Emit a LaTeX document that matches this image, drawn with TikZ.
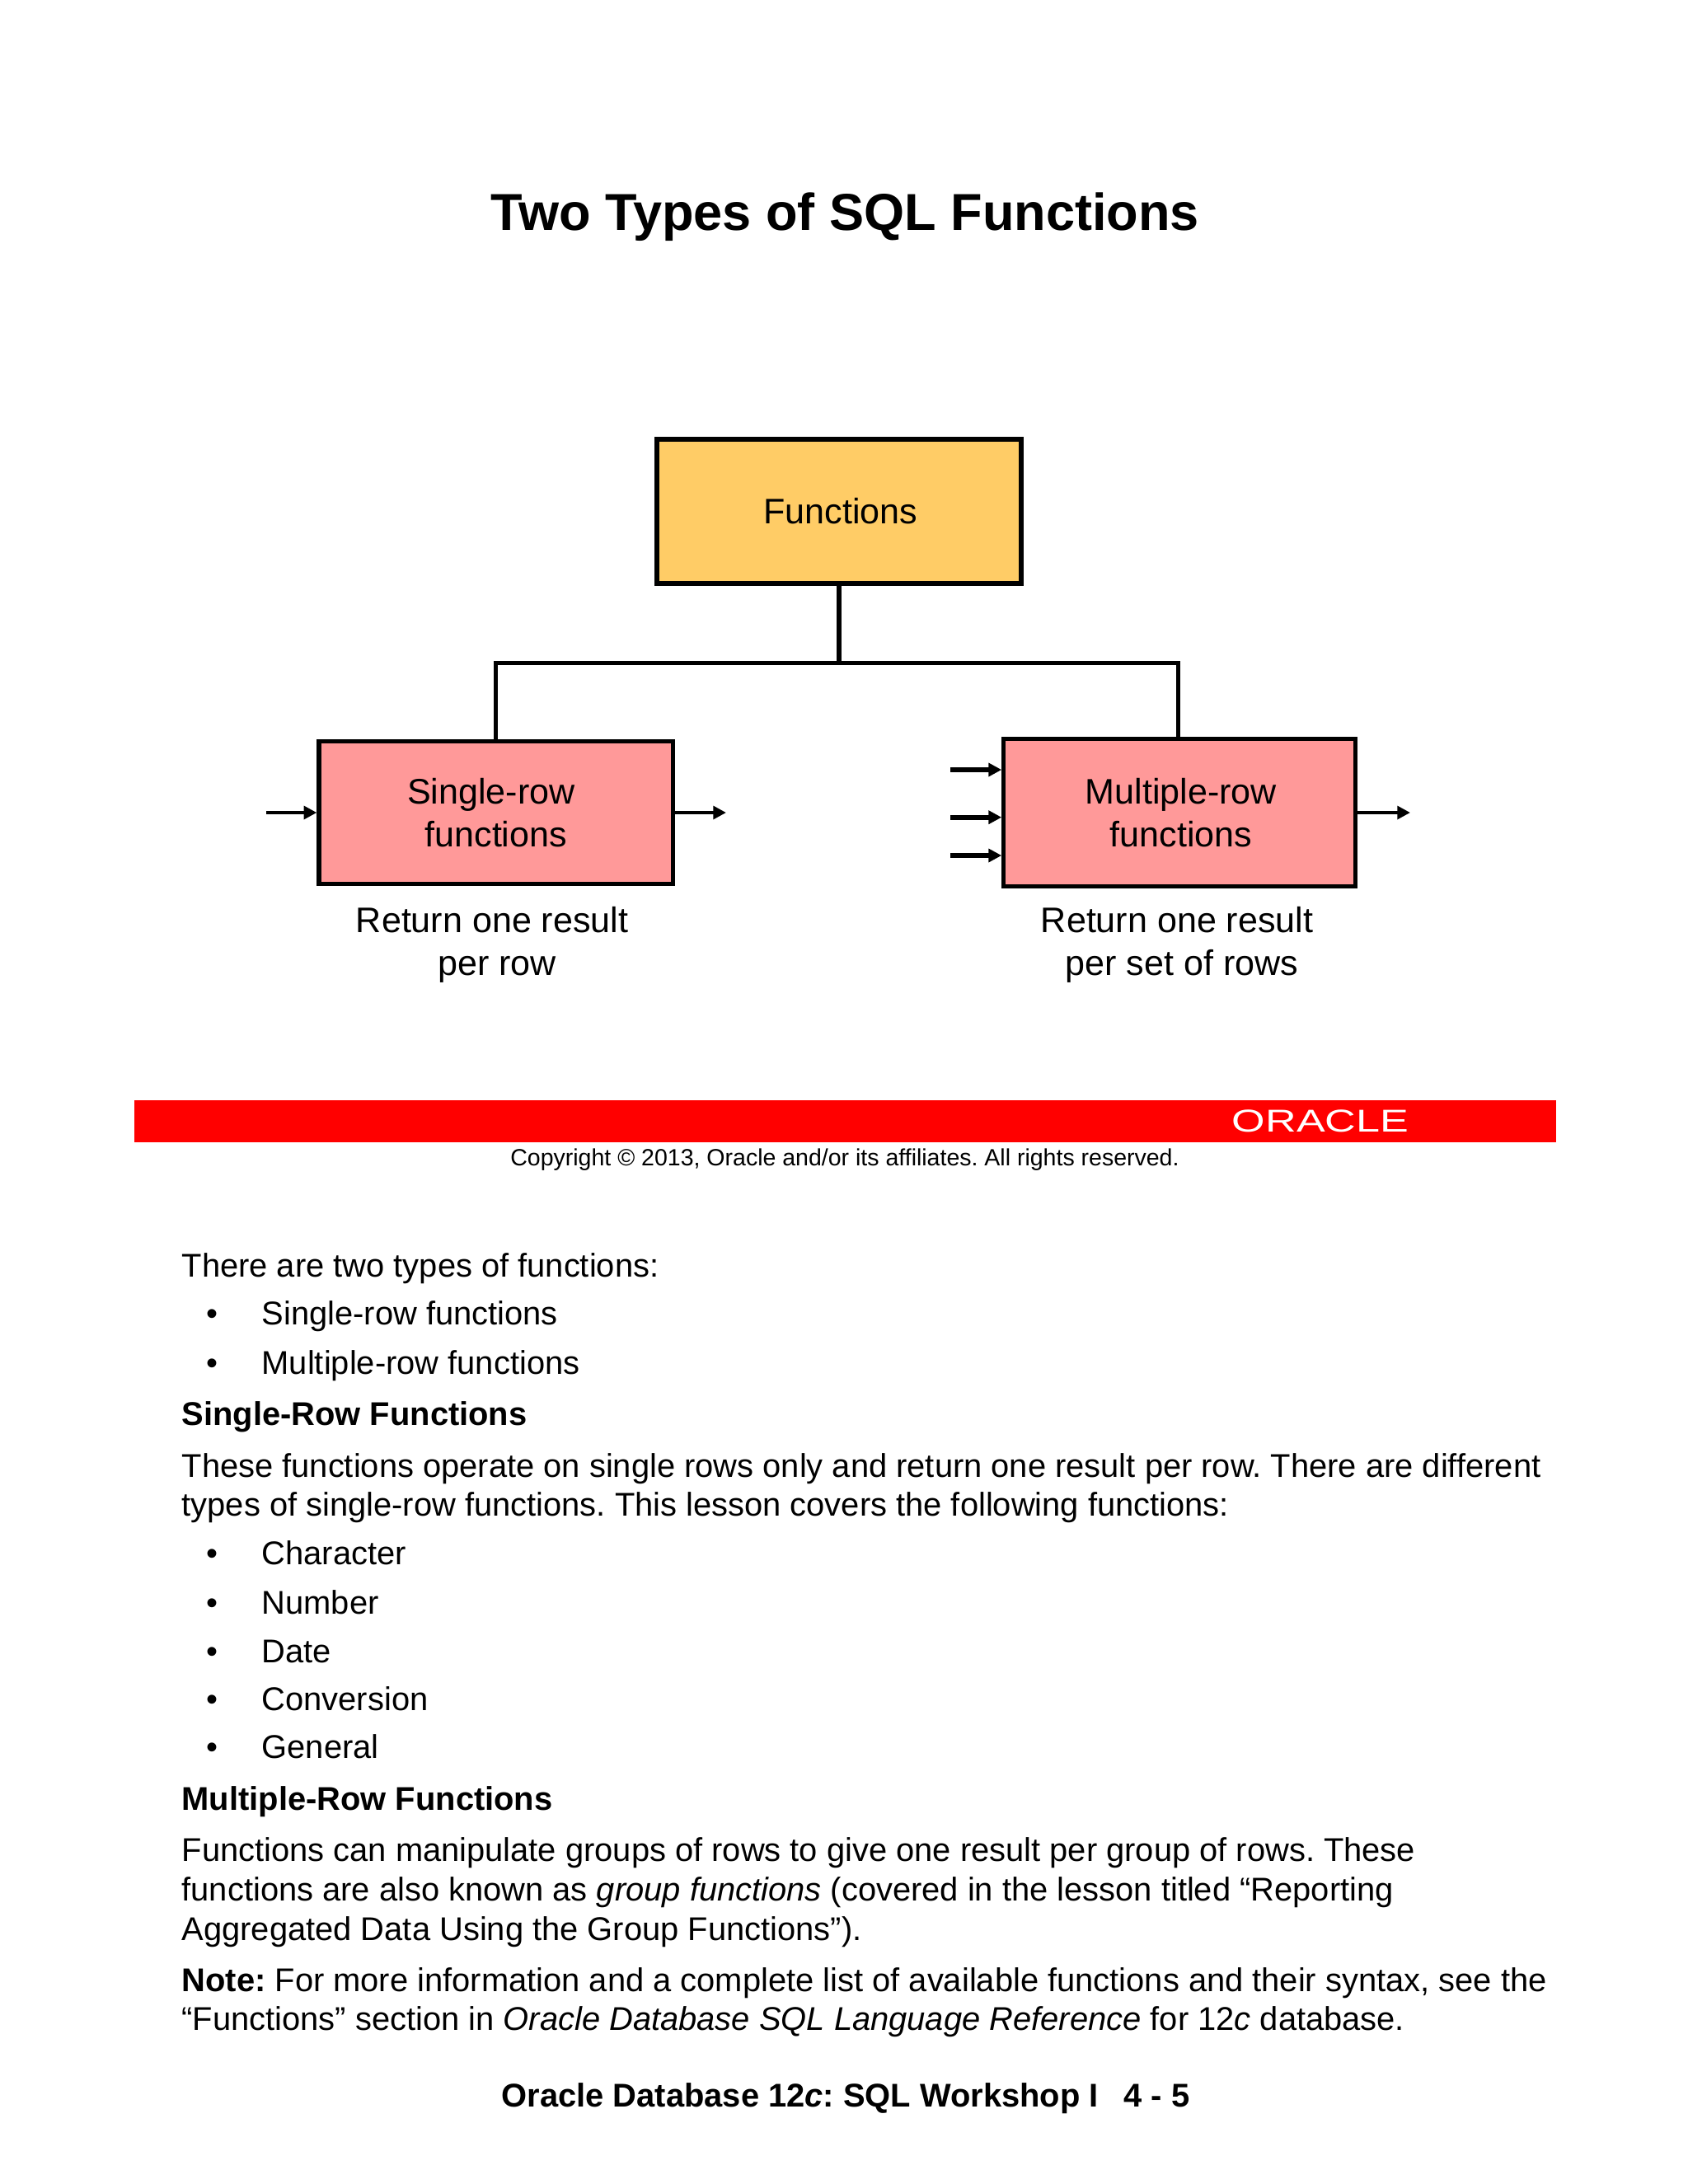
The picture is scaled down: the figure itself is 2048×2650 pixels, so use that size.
\documentclass[tikz,border=0pt]{standalone}
\usepackage{fontspec}
\setmainfont{Liberation Sans}
\usepackage{tikz}
\usetikzlibrary{arrows.meta, positioning, calc}

\definecolor{fnorange}{HTML}{FFCC66}
\definecolor{fnpink}{HTML}{FF9999}
\frenchspacing

\begin{document}
\begin{tikzpicture}[
  x=0.29883pt, y=-0.29883pt,
  topbox/.style={rectangle, draw, line width=1.7pt, fill=fnorange, inner sep=0pt,
    minimum width=132.2pt, minimum height=52.4pt, font=\fontsize{12.87}{15.5}\selectfont},
  rowbox/.style={rectangle, draw, line width=1.55pt, fill=fnpink, inner sep=0pt,
    align=center, font=\fontsize{12.87}{15.5}\selectfont},
  caption/.style={align=center, inner sep=0pt, font=\fontsize{12.87}{15.5}\selectfont},
  conn/.style={line width=1.5pt},
  flow/.style={line width=1.2pt, -{Triangle[length=4.7pt,width=4.7pt]}},
  bodytext/.style={anchor=base west, inner sep=0pt, font=\fontsize{11.92}{14}\selectfont},
  boldtext/.style={bodytext, font=\fontsize{11.92}{14}\bfseries\selectfont}
]
  \useasboundingbox (0,0) rectangle (2048,2650);

  % Title
  \node[anchor=base, inner sep=0pt, font=\fontsize{18.85}{22}\bfseries\selectfont] (title) at (1025,279)
    {Two Types of SQL Functions};

  % Boxes
  \node[topbox] (F) at (1018,620.5) {\hspace*{1pt}Functions};
  \node[rowbox, minimum width=128.4pt, minimum height=51.9pt] (S) at (601.8,986)
    {Single-row\hspace*{3.5pt}\\functions};
  \node[rowbox, minimum width=127.6pt, minimum height=53.7pt] (M) at (1431.3,986)
    {\hspace*{1pt}Multiple-row\\\hspace*{1pt}functions};

  \node[caption] (SC) at (603,1146.5) {Return one result\hspace*{3.5pt}\\per row};
  \node[caption] (MC) at (1434,1146.5) {Return one result\hspace*{3.5pt}\\per set of rows};

  % Connections
  \coordinate (Mj) at (1429.3,804.5);
  \draw[conn] (F.south) -- (F.south |- Mj);
  \draw[conn] (S.north) |- (Mj) -- (Mj |- M.north);

  % Arrows in and out
  \coordinate (Sin) at (323,986);
  \coordinate (Sout) at (881,986);
  \coordinate (Mout) at (1711,986);
  \coordinate (Min1) at (1153,934);
  \coordinate (Min2) at (1153,991.7);
  \coordinate (Min3) at (1153,1038);
  \draw[flow] (Sin) -- (S.west);
  \draw[flow] (S.east) -- (Sout);
  \draw[flow] (M.east) -- (Mout);
  \foreach \p in {Min1, Min2, Min3} {
    \draw[flow, line width=1.9pt] (\p) -- (\p -| M.west);
  }

  % Red bar
  \fill[red] (162.5,1335) rectangle (1888,1386);
  \node[inner sep=0pt, text=white] (logo) at (1602,1360)
    {\resizebox{64pt}{8pt}{ORACLE}};
  \node[anchor=base, inner sep=0pt, font=\fontsize{8.52}{10}\selectfont] (copy) at (1025,1414)
    {Copyright © 2013, Oracle and/or its affiliates. All rights reserved.};

  % Notes
  \node[bodytext] (n1) at (220,1549) {There are two types of functions:};
  \node[bodytext] (n2) at (317,1607) {Single-row functions};
  \node[bodytext] (n3) at (317,1667) {Multiple-row functions};
  \node[boldtext] (n4) at (220,1729.5) {Single-Row Functions};
  \node[bodytext] (n5) at (220,1792) {These functions operate on single rows only and return one result per row. There are different};
  \node[bodytext] (n6) at (220,1839) {types of single-row functions. This lesson covers the following functions:};
  \node[bodytext] (n7) at (317,1898) {Character};
  \node[bodytext] (n8) at (317,1958) {Number};
  \node[bodytext] (n9) at (317,2017) {Date};
  \node[bodytext] (n10) at (317,2075.5) {Conversion};
  \node[bodytext] (n11) at (317,2133.5) {General};
  \node[boldtext] (n12) at (220,2196.5) {Multiple-Row Functions};
  \node[bodytext] (n13) at (220,2258) {Functions can manipulate groups of rows to give one result per group of rows. These};
  \node[bodytext] (n14) at (220,2306) {functions are also known as \textit{group functions} (covered in the lesson titled “Reporting};
  \node[bodytext] (n15) at (220,2354) {Aggregated Data Using the Group Functions”).};
  \node[bodytext] (n16) at (220,2416) {\textbf{Note:} For more information and a complete list of available functions and their syntax, see the};
  \node[bodytext] (n17) at (220,2463) {“Functions” section in \textit{Oracle Database SQL Language Reference} for 12\textit{c} database.};
  \foreach \y/\b in {1607/b1, 1667/b2, 1898/b3, 1958/b4, 2017/b5, 2075.5/b6, 2133.5/b7} {
    \node[bodytext] (\b) at (250,\y) {•};
  }

  % Footer
  \node[boldtext, anchor=base] (foot) at (1026,2556)
    {Oracle Database 12\textit{c}: SQL Workshop I\hspace{9.2pt}4 - 5};
\end{tikzpicture}
\end{document}
